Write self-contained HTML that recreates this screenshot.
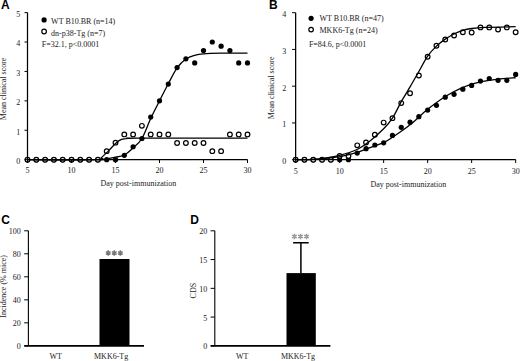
<!DOCTYPE html>
<html><head><meta charset="utf-8"><style>
html,body{margin:0;padding:0;background:#fff;overflow:hidden;}
svg{display:block;}
svg text{font-family:"Liberation Serif", serif;}
svg text.sans{font-family:"Liberation Sans", sans-serif;}
</style></head><body>
<svg width="520" height="361" viewBox="0 0 520 361">
<rect width="520" height="361" fill="#fff"/>
<circle cx="27.50" cy="159.70" r="2.6" fill="#000"/>
<circle cx="36.30" cy="159.70" r="2.6" fill="#000"/>
<circle cx="45.10" cy="159.70" r="2.6" fill="#000"/>
<circle cx="53.90" cy="159.70" r="2.6" fill="#000"/>
<circle cx="62.70" cy="159.70" r="2.6" fill="#000"/>
<circle cx="71.50" cy="159.70" r="2.6" fill="#000"/>
<circle cx="80.30" cy="159.70" r="2.6" fill="#000"/>
<circle cx="89.10" cy="159.70" r="2.6" fill="#000"/>
<circle cx="97.90" cy="159.70" r="2.6" fill="#000"/>
<circle cx="106.70" cy="159.70" r="2.6" fill="#000"/>
<circle cx="115.50" cy="159.70" r="2.6" fill="#000"/>
<circle cx="124.30" cy="155.29" r="2.6" fill="#000"/>
<circle cx="133.10" cy="146.76" r="2.6" fill="#000"/>
<circle cx="141.90" cy="138.52" r="2.6" fill="#000"/>
<circle cx="150.70" cy="117.04" r="2.6" fill="#000"/>
<circle cx="159.50" cy="100.86" r="2.6" fill="#000"/>
<circle cx="168.30" cy="84.09" r="2.6" fill="#000"/>
<circle cx="177.10" cy="67.62" r="2.6" fill="#000"/>
<circle cx="185.90" cy="58.79" r="2.6" fill="#000"/>
<circle cx="194.70" cy="62.91" r="2.6" fill="#000"/>
<circle cx="203.50" cy="50.55" r="2.6" fill="#000"/>
<circle cx="212.30" cy="42.02" r="2.6" fill="#000"/>
<circle cx="221.10" cy="46.14" r="2.6" fill="#000"/>
<circle cx="229.90" cy="50.55" r="2.6" fill="#000"/>
<circle cx="238.70" cy="62.91" r="2.6" fill="#000"/>
<circle cx="247.50" cy="62.91" r="2.6" fill="#000"/>
<circle cx="27.50" cy="159.70" r="2.35" fill="#fff" stroke="#000" stroke-width="1.2"/>
<circle cx="36.30" cy="159.70" r="2.35" fill="#fff" stroke="#000" stroke-width="1.2"/>
<circle cx="45.10" cy="159.70" r="2.35" fill="#fff" stroke="#000" stroke-width="1.2"/>
<circle cx="53.90" cy="159.70" r="2.35" fill="#fff" stroke="#000" stroke-width="1.2"/>
<circle cx="62.70" cy="159.70" r="2.35" fill="#fff" stroke="#000" stroke-width="1.2"/>
<circle cx="71.50" cy="159.70" r="2.35" fill="#fff" stroke="#000" stroke-width="1.2"/>
<circle cx="80.30" cy="159.70" r="2.35" fill="#fff" stroke="#000" stroke-width="1.2"/>
<circle cx="89.10" cy="159.70" r="2.35" fill="#fff" stroke="#000" stroke-width="1.2"/>
<circle cx="97.90" cy="159.70" r="2.35" fill="#fff" stroke="#000" stroke-width="1.2"/>
<circle cx="106.70" cy="151.17" r="2.35" fill="#fff" stroke="#000" stroke-width="1.2"/>
<circle cx="115.50" cy="142.64" r="2.35" fill="#fff" stroke="#000" stroke-width="1.2"/>
<circle cx="124.30" cy="134.40" r="2.35" fill="#fff" stroke="#000" stroke-width="1.2"/>
<circle cx="133.10" cy="134.40" r="2.35" fill="#fff" stroke="#000" stroke-width="1.2"/>
<circle cx="141.90" cy="125.87" r="2.35" fill="#fff" stroke="#000" stroke-width="1.2"/>
<circle cx="150.70" cy="134.40" r="2.35" fill="#fff" stroke="#000" stroke-width="1.2"/>
<circle cx="159.50" cy="134.40" r="2.35" fill="#fff" stroke="#000" stroke-width="1.2"/>
<circle cx="168.30" cy="134.40" r="2.35" fill="#fff" stroke="#000" stroke-width="1.2"/>
<circle cx="177.10" cy="142.93" r="2.35" fill="#fff" stroke="#000" stroke-width="1.2"/>
<circle cx="185.90" cy="142.93" r="2.35" fill="#fff" stroke="#000" stroke-width="1.2"/>
<circle cx="194.70" cy="142.93" r="2.35" fill="#fff" stroke="#000" stroke-width="1.2"/>
<circle cx="203.50" cy="142.93" r="2.35" fill="#fff" stroke="#000" stroke-width="1.2"/>
<circle cx="212.30" cy="151.17" r="2.35" fill="#fff" stroke="#000" stroke-width="1.2"/>
<circle cx="221.10" cy="151.17" r="2.35" fill="#fff" stroke="#000" stroke-width="1.2"/>
<circle cx="229.90" cy="134.40" r="2.35" fill="#fff" stroke="#000" stroke-width="1.2"/>
<circle cx="238.70" cy="134.40" r="2.35" fill="#fff" stroke="#000" stroke-width="1.2"/>
<circle cx="247.50" cy="134.40" r="2.35" fill="#fff" stroke="#000" stroke-width="1.2"/>
<path d="M27.50,159.70 C39.09,159.70 84.70,160.04 97.02,159.70 C109.34,159.36 99.51,159.11 101.42,157.64 C103.33,156.17 105.97,153.37 108.46,150.87 C110.95,148.37 114.18,144.55 116.38,142.64 C118.58,140.72 119.61,140.11 121.66,139.40 C123.71,138.69 126.06,138.57 128.70,138.37 C131.34,138.17 117.70,138.25 137.50,138.22 C157.30,138.20 229.17,138.22 247.50,138.22" fill="none" stroke="#000" stroke-width="1.3"/>
<path d="M27.50,159.70 C39.09,159.70 83.82,159.85 97.02,159.70 C110.22,159.55 103.62,159.23 106.70,158.82 C109.78,158.40 112.57,157.84 115.50,157.20 C118.43,156.56 121.37,156.54 124.30,154.99 C127.23,153.45 130.17,150.68 133.10,147.93 C136.03,145.19 138.97,143.42 141.90,138.52 C144.83,133.61 147.77,124.79 150.70,118.51 C153.63,112.24 156.57,106.65 159.50,100.86 C162.43,95.07 165.37,89.29 168.30,83.80 C171.23,78.30 174.17,72.03 177.10,67.91 C180.03,63.79 182.97,61.19 185.90,59.08 C188.83,56.98 191.77,56.14 194.70,55.26 C197.63,54.38 199.10,54.13 203.50,53.79 C207.90,53.44 213.77,53.30 221.10,53.20 C228.43,53.10 243.10,53.20 247.50,53.20" fill="none" stroke="#000" stroke-width="1.3"/>
<path d="M27.5,12.599999999999966 V159.5 H247.50000000000003" fill="none" stroke="#000" stroke-width="1.25"/>
<path d="M24.5,159.70 H27.5" stroke="#000" stroke-width="1"/>
<text x="20.3" y="164.1" font-size="8" text-anchor="end" fill="#222" >0</text>
<path d="M24.5,130.28 H27.5" stroke="#000" stroke-width="1"/>
<text x="20.3" y="134.68" font-size="8" text-anchor="end" fill="#222" >1</text>
<path d="M24.5,100.86 H27.5" stroke="#000" stroke-width="1"/>
<text x="20.3" y="105.26" font-size="8" text-anchor="end" fill="#222" >2</text>
<path d="M24.5,71.44 H27.5" stroke="#000" stroke-width="1"/>
<text x="20.3" y="75.84" font-size="8" text-anchor="end" fill="#222" >3</text>
<path d="M24.5,42.02 H27.5" stroke="#000" stroke-width="1"/>
<text x="20.3" y="46.42" font-size="8" text-anchor="end" fill="#222" >4</text>
<path d="M24.5,12.60 H27.5" stroke="#000" stroke-width="1"/>
<text x="20.3" y="17.0" font-size="8" text-anchor="end" fill="#222" >5</text>
<path d="M27.50,159.5 V163.0" stroke="#000" stroke-width="1"/>
<text x="27.5" y="172.8" font-size="8" text-anchor="middle" fill="#222" >5</text>
<path d="M71.50,159.5 V163.0" stroke="#000" stroke-width="1"/>
<text x="71.5" y="172.8" font-size="8" text-anchor="middle" fill="#222" >10</text>
<path d="M115.50,159.5 V163.0" stroke="#000" stroke-width="1"/>
<text x="115.5" y="172.8" font-size="8" text-anchor="middle" fill="#222" >15</text>
<path d="M159.50,159.5 V163.0" stroke="#000" stroke-width="1"/>
<text x="159.5" y="172.8" font-size="8" text-anchor="middle" fill="#222" >20</text>
<path d="M203.50,159.5 V163.0" stroke="#000" stroke-width="1"/>
<text x="203.5" y="172.8" font-size="8" text-anchor="middle" fill="#222" >25</text>
<path d="M247.50,159.5 V163.0" stroke="#000" stroke-width="1"/>
<text x="247.5" y="172.8" font-size="8" text-anchor="middle" fill="#222" >30</text>
<text x="138.3" y="186.2" font-size="8" text-anchor="middle" fill="#222" >Day post-immunization</text>
<text x="5.8" y="88.9" font-size="8" text-anchor="middle" fill="#222" transform="rotate(-90 5.8 88.9)" >Mean clinical score</text>
<circle cx="44.1" cy="19.9" r="2.6" fill="#000"/>
<circle cx="44.1" cy="31.5" r="2.3" fill="#fff" stroke="#000" stroke-width="1.2"/>
<text x="51.1" y="24.0" font-size="8" text-anchor="start" fill="#222" >WT B10.BR (n=14)</text>
<text x="51.1" y="36.0" font-size="8" text-anchor="start" fill="#222" >dn-p38-Tg (n=7)</text>
<text x="41.8" y="47.0" font-size="8" text-anchor="start" fill="#222" >F=32.1, p&lt;0.0001</text>
<circle cx="295.65" cy="159.70" r="2.6" fill="#000"/>
<circle cx="304.45" cy="159.70" r="2.6" fill="#000"/>
<circle cx="313.25" cy="159.70" r="2.6" fill="#000"/>
<circle cx="322.05" cy="159.70" r="2.6" fill="#000"/>
<circle cx="330.85" cy="159.70" r="2.6" fill="#000"/>
<circle cx="339.65" cy="159.70" r="2.6" fill="#000"/>
<circle cx="348.45" cy="159.70" r="2.6" fill="#000"/>
<circle cx="357.25" cy="153.08" r="2.6" fill="#000"/>
<circle cx="366.05" cy="148.67" r="2.6" fill="#000"/>
<circle cx="374.85" cy="145.00" r="2.6" fill="#000"/>
<circle cx="383.65" cy="142.79" r="2.6" fill="#000"/>
<circle cx="392.45" cy="135.44" r="2.6" fill="#000"/>
<circle cx="401.25" cy="127.36" r="2.6" fill="#000"/>
<circle cx="410.05" cy="122.21" r="2.6" fill="#000"/>
<circle cx="418.85" cy="116.70" r="2.6" fill="#000"/>
<circle cx="427.65" cy="110.09" r="2.6" fill="#000"/>
<circle cx="436.45" cy="105.31" r="2.6" fill="#000"/>
<circle cx="445.25" cy="97.22" r="2.6" fill="#000"/>
<circle cx="454.05" cy="94.28" r="2.6" fill="#000"/>
<circle cx="462.85" cy="89.14" r="2.6" fill="#000"/>
<circle cx="471.65" cy="85.46" r="2.6" fill="#000"/>
<circle cx="480.45" cy="81.05" r="2.6" fill="#000"/>
<circle cx="489.25" cy="78.48" r="2.6" fill="#000"/>
<circle cx="498.05" cy="80.32" r="2.6" fill="#000"/>
<circle cx="506.85" cy="80.32" r="2.6" fill="#000"/>
<circle cx="515.65" cy="74.44" r="2.6" fill="#000"/>
<circle cx="295.65" cy="159.70" r="2.35" fill="#fff" stroke="#000" stroke-width="1.2"/>
<circle cx="304.45" cy="159.70" r="2.35" fill="#fff" stroke="#000" stroke-width="1.2"/>
<circle cx="313.25" cy="159.70" r="2.35" fill="#fff" stroke="#000" stroke-width="1.2"/>
<circle cx="322.05" cy="159.70" r="2.35" fill="#fff" stroke="#000" stroke-width="1.2"/>
<circle cx="330.85" cy="159.70" r="2.35" fill="#fff" stroke="#000" stroke-width="1.2"/>
<circle cx="339.65" cy="156.02" r="2.35" fill="#fff" stroke="#000" stroke-width="1.2"/>
<circle cx="348.45" cy="156.02" r="2.35" fill="#fff" stroke="#000" stroke-width="1.2"/>
<circle cx="357.25" cy="145.37" r="2.35" fill="#fff" stroke="#000" stroke-width="1.2"/>
<circle cx="366.05" cy="142.43" r="2.35" fill="#fff" stroke="#000" stroke-width="1.2"/>
<circle cx="374.85" cy="134.71" r="2.35" fill="#fff" stroke="#000" stroke-width="1.2"/>
<circle cx="383.65" cy="122.58" r="2.35" fill="#fff" stroke="#000" stroke-width="1.2"/>
<circle cx="392.45" cy="118.17" r="2.35" fill="#fff" stroke="#000" stroke-width="1.2"/>
<circle cx="401.25" cy="103.10" r="2.35" fill="#fff" stroke="#000" stroke-width="1.2"/>
<circle cx="410.05" cy="93.18" r="2.35" fill="#fff" stroke="#000" stroke-width="1.2"/>
<circle cx="418.85" cy="75.54" r="2.35" fill="#fff" stroke="#000" stroke-width="1.2"/>
<circle cx="427.65" cy="56.80" r="2.35" fill="#fff" stroke="#000" stroke-width="1.2"/>
<circle cx="436.45" cy="45.77" r="2.35" fill="#fff" stroke="#000" stroke-width="1.2"/>
<circle cx="445.25" cy="39.53" r="2.35" fill="#fff" stroke="#000" stroke-width="1.2"/>
<circle cx="454.05" cy="35.48" r="2.35" fill="#fff" stroke="#000" stroke-width="1.2"/>
<circle cx="462.85" cy="32.18" r="2.35" fill="#fff" stroke="#000" stroke-width="1.2"/>
<circle cx="471.65" cy="32.54" r="2.35" fill="#fff" stroke="#000" stroke-width="1.2"/>
<circle cx="480.45" cy="27.40" r="2.35" fill="#fff" stroke="#000" stroke-width="1.2"/>
<circle cx="489.25" cy="27.40" r="2.35" fill="#fff" stroke="#000" stroke-width="1.2"/>
<circle cx="498.05" cy="29.60" r="2.35" fill="#fff" stroke="#000" stroke-width="1.2"/>
<circle cx="506.85" cy="27.40" r="2.35" fill="#fff" stroke="#000" stroke-width="1.2"/>
<circle cx="515.65" cy="32.18" r="2.35" fill="#fff" stroke="#000" stroke-width="1.2"/>
<path d="M295.65,159.70 C298.58,159.64 308.12,159.64 313.25,159.33 C318.38,159.03 321.76,158.60 326.45,157.86 C331.14,157.13 336.42,156.27 341.41,154.92 C346.40,153.57 351.60,152.10 356.37,149.78 C361.14,147.45 365.46,144.45 370.01,140.96 C374.56,137.47 379.91,132.63 383.65,128.83 C387.39,125.03 389.52,122.70 392.45,118.17 C395.38,113.64 398.32,106.84 401.25,101.63 C404.18,96.43 407.12,91.96 410.05,86.93 C412.98,81.91 415.92,76.64 418.85,71.50 C421.78,66.35 424.72,60.29 427.65,56.06 C430.58,51.84 433.52,48.96 436.45,46.14 C439.38,43.32 442.32,41.18 445.25,39.16 C448.18,37.14 451.12,35.48 454.05,34.01 C456.98,32.54 459.92,31.26 462.85,30.34 C465.78,29.42 467.98,28.99 471.65,28.50 C475.32,28.01 477.52,27.71 484.85,27.40 C492.18,27.09 510.52,26.79 515.65,26.66" fill="none" stroke="#000" stroke-width="1.3"/>
<path d="M295.65,159.70 C298.58,159.64 308.12,159.58 313.25,159.33 C318.38,159.09 321.76,158.72 326.45,158.23 C331.14,157.74 336.42,157.31 341.41,156.39 C346.40,155.47 350.88,154.43 356.37,152.72 C361.86,151.00 369.48,147.94 374.32,146.10 C379.16,144.26 381.22,143.96 385.41,141.69 C389.60,139.43 394.86,135.75 399.49,132.50 C404.12,129.26 408.52,126.07 413.22,122.21 C417.91,118.36 421.87,113.88 427.65,109.35 C433.43,104.82 440.41,99.25 447.89,95.02 C455.37,90.79 464.24,86.63 472.53,83.99 C480.82,81.36 490.42,80.26 497.61,79.22 C504.80,78.18 512.64,77.99 515.65,77.75" fill="none" stroke="#000" stroke-width="1.3"/>
<path d="M295.65,12.699999999999989 V159.5 H515.65" fill="none" stroke="#000" stroke-width="1.25"/>
<path d="M292.04999999999995,159.70 H295.65" stroke="#000" stroke-width="1"/>
<text x="286.15" y="164.1" font-size="8" text-anchor="end" fill="#222" >0</text>
<path d="M292.04999999999995,122.95 H295.65" stroke="#000" stroke-width="1"/>
<text x="286.15" y="127.35" font-size="8" text-anchor="end" fill="#222" >1</text>
<path d="M292.04999999999995,86.20 H295.65" stroke="#000" stroke-width="1"/>
<text x="286.15" y="90.6" font-size="8" text-anchor="end" fill="#222" >2</text>
<path d="M292.04999999999995,49.45 H295.65" stroke="#000" stroke-width="1"/>
<text x="286.15" y="53.85" font-size="8" text-anchor="end" fill="#222" >3</text>
<path d="M292.04999999999995,12.70 H295.65" stroke="#000" stroke-width="1"/>
<text x="286.15" y="17.1" font-size="8" text-anchor="end" fill="#222" >4</text>
<path d="M295.65,159.5 V163.0" stroke="#000" stroke-width="1"/>
<text x="295.65" y="173.5" font-size="8" text-anchor="middle" fill="#222" >5</text>
<path d="M339.65,159.5 V163.0" stroke="#000" stroke-width="1"/>
<text x="339.65" y="173.5" font-size="8" text-anchor="middle" fill="#222" >10</text>
<path d="M383.65,159.5 V163.0" stroke="#000" stroke-width="1"/>
<text x="383.65" y="173.5" font-size="8" text-anchor="middle" fill="#222" >15</text>
<path d="M427.65,159.5 V163.0" stroke="#000" stroke-width="1"/>
<text x="427.65" y="173.5" font-size="8" text-anchor="middle" fill="#222" >20</text>
<path d="M471.65,159.5 V163.0" stroke="#000" stroke-width="1"/>
<text x="471.65" y="173.5" font-size="8" text-anchor="middle" fill="#222" >25</text>
<path d="M515.65,159.5 V163.0" stroke="#000" stroke-width="1"/>
<text x="515.65" y="173.5" font-size="8" text-anchor="middle" fill="#222" >30</text>
<text x="408.3" y="186.5" font-size="8" text-anchor="middle" fill="#222" >Day post-immunization</text>
<text x="273.6" y="87.8" font-size="8" text-anchor="middle" fill="#222" transform="rotate(-90 273.6 87.8)" >Mean clinical score</text>
<circle cx="311.1" cy="18.3" r="2.6" fill="#000"/>
<circle cx="311.1" cy="29.6" r="2.3" fill="#fff" stroke="#000" stroke-width="1.2"/>
<text x="319.5" y="21.0" font-size="8" text-anchor="start" fill="#222" >WT B10.BR (n=47)</text>
<text x="319.5" y="33.0" font-size="8" text-anchor="start" fill="#222" >MKK6-Tg (n=24)</text>
<text x="308.9" y="47.0" font-size="8" text-anchor="start" fill="#222" >F=84.6, p&lt;0.0001</text>
<rect x="99.5" y="259.0" width="30.0" height="86.85000000000002" fill="#000"/>
<path d="M28.4,230.8 V345.85" stroke="#000" stroke-width="1.1"/>
<path d="M24.299999999999997,345.85 H144.0" stroke="#000" stroke-width="1.7"/>
<path d="M24.2,345.85 H28.4" stroke="#000" stroke-width="1"/>
<text x="20.799999999999997" y="349.45" font-size="8" text-anchor="end" fill="#222" >0</text>
<path d="M24.2,322.84 H28.4" stroke="#000" stroke-width="1"/>
<text x="20.799999999999997" y="326.44" font-size="8" text-anchor="end" fill="#222" >20</text>
<path d="M24.2,299.83 H28.4" stroke="#000" stroke-width="1"/>
<text x="20.799999999999997" y="303.43" font-size="8" text-anchor="end" fill="#222" >40</text>
<path d="M24.2,276.82 H28.4" stroke="#000" stroke-width="1"/>
<text x="20.799999999999997" y="280.42" font-size="8" text-anchor="end" fill="#222" >60</text>
<path d="M24.2,253.81 H28.4" stroke="#000" stroke-width="1"/>
<text x="20.799999999999997" y="257.41" font-size="8" text-anchor="end" fill="#222" >80</text>
<path d="M24.2,230.80 H28.4" stroke="#000" stroke-width="1"/>
<text x="20.799999999999997" y="234.4" font-size="8" text-anchor="end" fill="#222" >100</text>
<text x="55.6" y="359.0" font-size="8" text-anchor="middle" fill="#222" >WT</text>
<text x="111.1" y="359.0" font-size="8" text-anchor="middle" fill="#222" >MKK6-Tg</text>
<path d="M108.25,250.20 L108.25,255.80 M105.91,251.60 L110.59,254.40 M110.59,251.60 L105.91,254.40 " stroke="#777" stroke-width="1.5" fill="none"/>
<path d="M114.30,250.20 L114.30,255.80 M111.96,251.60 L116.64,254.40 M116.64,251.60 L111.96,254.40 " stroke="#777" stroke-width="1.5" fill="none"/>
<path d="M120.35,250.20 L120.35,255.80 M118.01,251.60 L122.69,254.40 M122.69,251.60 L118.01,254.40 " stroke="#777" stroke-width="1.5" fill="none"/>
<text x="6.0" y="286.4" font-size="8" text-anchor="middle" fill="#222" transform="rotate(-90 6.0 286.4)" >Incidence (% mice)</text>
<rect x="286.5" y="273.1" width="29.3" height="72.75" fill="#000"/>
<path d="M300.9,273.1 V242.75 M293.09999999999997,242.75 H308.7" stroke="#000" stroke-width="1.5" fill="none"/>
<path d="M214.8,230.8 V345.85" stroke="#000" stroke-width="1.1"/>
<path d="M210.70000000000002,345.85 H330.4" stroke="#000" stroke-width="1.7"/>
<path d="M210.60000000000002,345.85 H214.8" stroke="#000" stroke-width="1"/>
<text x="207.20000000000002" y="349.45" font-size="8" text-anchor="end" fill="#222" >0</text>
<path d="M210.60000000000002,317.09 H214.8" stroke="#000" stroke-width="1"/>
<text x="207.20000000000002" y="320.69" font-size="8" text-anchor="end" fill="#222" >5</text>
<path d="M210.60000000000002,288.33 H214.8" stroke="#000" stroke-width="1"/>
<text x="207.20000000000002" y="291.93" font-size="8" text-anchor="end" fill="#222" >10</text>
<path d="M210.60000000000002,259.56 H214.8" stroke="#000" stroke-width="1"/>
<text x="207.20000000000002" y="263.16" font-size="8" text-anchor="end" fill="#222" >15</text>
<path d="M210.60000000000002,230.80 H214.8" stroke="#000" stroke-width="1"/>
<text x="207.20000000000002" y="234.4" font-size="8" text-anchor="end" fill="#222" >20</text>
<text x="242.2" y="359.0" font-size="8" text-anchor="middle" fill="#222" >WT</text>
<text x="298.0" y="359.0" font-size="8" text-anchor="middle" fill="#222" >MKK6-Tg</text>
<path d="M294.45,233.70 L294.45,239.30 M292.11,235.10 L296.79,237.90 M296.79,235.10 L292.11,237.90 " stroke="#999" stroke-width="1.5" fill="none"/>
<path d="M300.50,233.70 L300.50,239.30 M298.16,235.10 L302.84,237.90 M302.84,235.10 L298.16,237.90 " stroke="#999" stroke-width="1.5" fill="none"/>
<path d="M306.55,233.70 L306.55,239.30 M304.21,235.10 L308.89,237.90 M308.89,235.10 L304.21,237.90 " stroke="#999" stroke-width="1.5" fill="none"/>
<text x="195.6" y="290.6" font-size="8" text-anchor="middle" fill="#222" transform="rotate(-90 195.6 290.6)" >CDS</text>
<text class="sans" x="1.0" y="8.6" font-weight="bold" font-size="12" fill="#000">A</text>
<text class="sans" x="268.9" y="8.6" font-weight="bold" font-size="12" fill="#000">B</text>
<text class="sans" x="1.3" y="223.8" font-weight="bold" font-size="12" fill="#000">C</text>
<text class="sans" x="190.2" y="223.8" font-weight="bold" font-size="12" fill="#000">D</text>
</svg>
</body></html>
